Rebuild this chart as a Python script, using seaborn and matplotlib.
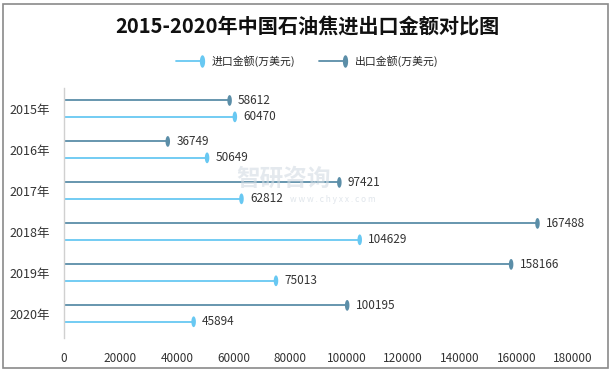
import matplotlib
matplotlib.use("Agg")
import matplotlib.pyplot as plt
import seaborn as sns
import pandas as pd
import numpy as np
from matplotlib.path import Path
from matplotlib.lines import Line2D
from matplotlib.patches import Rectangle
from matplotlib.legend_handler import HandlerBase

years = ["2015年", "2016年", "2017年", "2018年", "2019年", "2020年"]
export_vals = [58612, 36749, 97421, 167488, 158166, 100195]
import_vals = [60470, 50649, 62812, 104629, 75013, 45894]
xticks = [0, 20000, 40000, 60000, 80000, 100000, 120000, 140000, 160000, 180000]

sns.set_theme(style="white")
plt.rcParams['font.family'] = ['Noto Sans CJK SC', 'DejaVu Sans']

c_exp = "#5b8ea8"
c_imp = "#68c8f2"

t = np.linspace(0, 2 * np.pi, 40)
ell = Path(np.column_stack([0.42 * np.cos(t), np.sin(t)]), closed=True)

fig = plt.figure(figsize=(6.14, 3.72), dpi=100)
ax = fig.add_axes([0.104, 0.091, 0.829, 0.672])

pos = np.arange(len(years))
df = pd.DataFrame({
    "y": np.concatenate([pos - 0.2, pos + 0.2]),
    "v": export_vals + import_vals,
    "s": ["出口金额(万美元)"] * 6 + ["进口金额(万美元)"] * 6,
})

ax.hlines(pos - 0.2, 0, export_vals, color=c_exp, lw=1.3)
ax.hlines(pos + 0.2, 0, import_vals, color=c_imp, lw=1.3)
sns.scatterplot(data=df, x="v", y="y", hue="s",
                palette={"出口金额(万美元)": c_exp, "进口金额(万美元)": c_imp},
                marker=ell, s=60, linewidth=0, ax=ax, legend=False, zorder=3)

for yy, v in zip(pos - 0.2, export_vals):
    ax.text(v + 3000, yy, str(v), va="center", ha="left", fontsize=8.5, color="#333333")
for yy, v in zip(pos + 0.2, import_vals):
    ax.text(v + 3000, yy, str(v), va="center", ha="left", fontsize=8.5, color="#333333")

ax.set_xlim(0, 180000)
ax.set_ylim(5.6, -0.5)
ax.set_yticks(pos)
ax.set_yticklabels(years, fontsize=9, color="#333333")
ax.set_xticks(xticks)
ax.set_xticklabels([str(x) for x in xticks], fontsize=8.5, color="#333333")
ax.tick_params(axis="x", length=0, pad=10)
ax.tick_params(axis="y", length=0, pad=10)
ax.set_xlabel("")
ax.set_ylabel("")
for s in ["top", "right", "bottom"]:
    ax.spines[s].set_visible(False)
ax.spines["left"].set_color("#d0d0d0")
ax.spines["left"].set_linewidth(1)

# watermark
fig.text(0.385, 0.52, "智研咨询", fontsize=17, color="#d3dbe3", alpha=0.6, ha="left", va="center", weight="bold")
fig.text(0.472, 0.465, "w w w . c h y x x . c o m", fontsize=6, color="#d3dbe3", alpha=0.7, ha="left", va="center")

fig.suptitle("2015-2020年中国石油焦进出口金额对比图", y=0.955, fontsize=14.5, weight="bold", color="#111111")


class LollipopHandler(HandlerBase):
    def create_artists(self, legend, orig, xdescent, ydescent, width, height, fontsize, trans):
        c = orig.get_color()
        y = (height - ydescent) / 2
        x0, x1 = -xdescent, -xdescent + width
        ln = Line2D([x0, x1], [y, y], color=c, lw=1.3)
        mk = Line2D([x1], [y], marker=ell, markersize=9, markeredgewidth=0, color=c, linestyle="none")
        ln.set_transform(trans)
        mk.set_transform(trans)
        return [ln, mk]


handles = [Line2D([0], [0], color=c_imp), Line2D([0], [0], color=c_exp)]
leg = fig.legend(handles, ["进口金额(万美元)", "出口金额(万美元)"], loc="center",
                 bbox_to_anchor=(0.5, 0.835), ncol=2, frameon=False, fontsize=7.8,
                 handlelength=2.4, handletextpad=0.9, columnspacing=2.2,
                 handler_map={Line2D: LollipopHandler()})

fig.patches.append(Rectangle((0.005, 0.01), 0.985, 0.978, transform=fig.transFigure,
                             fill=False, edgecolor="#8a8a8a", lw=1.2))

fig.savefig("out.png", dpi=100)
